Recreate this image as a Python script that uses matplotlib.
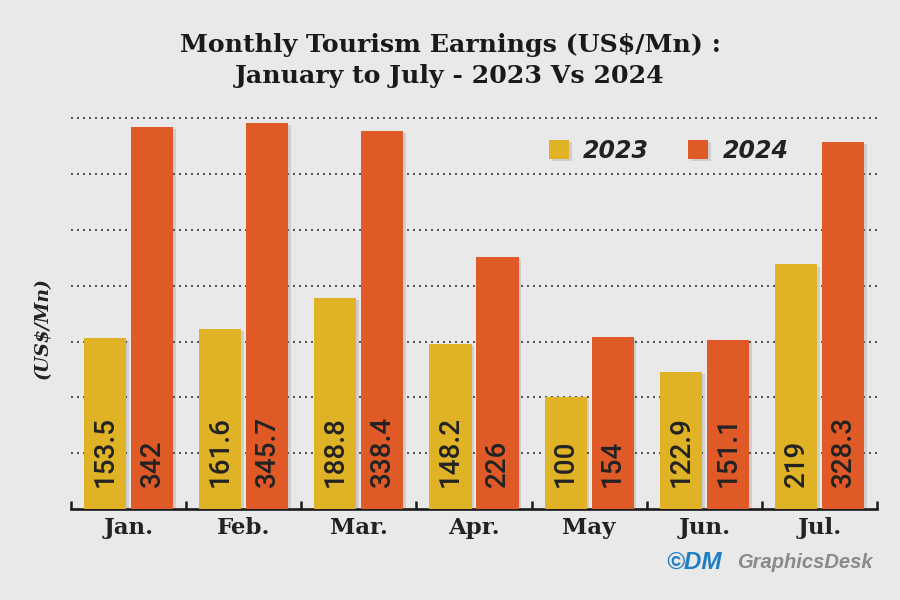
import matplotlib
matplotlib.use("Agg")
import matplotlib.pyplot as plt
import matplotlib.patheffects as pe
from matplotlib.ticker import FixedLocator
import numpy as np

months = ["Jan.", "Feb.", "Mar.", "Apr.", "May", "Jun.", "Jul."]
earn_2023 = [153.5, 161.6, 188.8, 148.2, 100, 122.9, 219]
earn_2024 = [342, 345.7, 338.4, 226, 154, 151.1, 328.3]
labels_2023 = ["153.5", "161.6", "188.8", "148.2", "100", "122.9", "219"]
labels_2024 = ["342", "345.7", "338.4", "226", "154", "151.1", "328.3"]
series_names = ["2023", "2024"]
grid_values = [50, 100, 150, 200, 250, 300, 350]

c23 = "#dfb325"
c24 = "#df5a26"
bg = "#e9e9e9"

fig = plt.figure(figsize=(9, 6), dpi=100, facecolor=bg)
ax = fig.add_axes([71/900, 91/600, 806/900, 0.67])
ax.set_facecolor(bg)

x = np.arange(len(months))
w = 0.365
off = 0.204
shadow = [pe.SimplePatchShadow(offset=(2, -1.5), alpha=0.18, shadow_rgbFace="#555555"), pe.Normal()]
b1 = ax.bar(x - off, earn_2023, w, color=c23, zorder=3, label=series_names[0], path_effects=shadow)
b2 = ax.bar(x + off, earn_2024, w, color=c24, zorder=3, label=series_names[1], path_effects=shadow)

narrow = ["Roboto", "DejaVu Sans"]
for xi, lab in zip(x - off, labels_2023):
    ax.text(xi, 20, lab, rotation=90, ha="center", va="bottom", fontsize=20,
            family=narrow, fontweight="medium", color="#222222", zorder=4)
for xi, lab in zip(x + off, labels_2024):
    ax.text(xi, 20, lab, rotation=90, ha="center", va="bottom", fontsize=20,
            family=narrow, fontweight="medium", color="#222222", zorder=4)

ax.set_xlim(-0.5, len(months) - 0.5)
ax.set_ylim(0, 360)

ax.set_yticks(grid_values)
ax.set_yticklabels([])
ax.tick_params(axis="y", length=0)
ax.yaxis.grid(True, color="#555555", linewidth=1.44, linestyle=(0, (1, 2)), zorder=0)
ax.set_axisbelow(True)

for s in ["left", "right", "top"]:
    ax.spines[s].set_visible(False)
ax.spines["bottom"].set_linewidth(1.9)
ax.spines["bottom"].set_color("#1a1a1a")

ax.set_xticks(x)
ax.set_xticklabels(months, family="DejaVu Serif", fontweight="bold", fontsize=16.5, color="#222222")
ax.tick_params(axis="x", which="major", length=0, pad=6)
ax.xaxis.set_minor_locator(FixedLocator(np.arange(-0.5, len(months), 1.0)))
ax.tick_params(axis="x", which="minor", direction="in", length=6, width=1.8, color="#1a1a1a")

ax.set_ylabel("(US$/Mn)", family="DejaVu Serif", fontweight="bold", style="italic",
              fontsize=13.5, color="#222222")
ax.yaxis.set_label_coords(-0.024, 0.45)

fig.text(0.5, 1 - 45/600, "Monthly Tourism Earnings (US$/Mn) :", ha="center", va="center",
         family="DejaVu Serif", fontweight="bold", fontsize=18.2, color="#1a1a1a")
fig.text(0.5, 1 - 76/600, "January to July - 2023 Vs 2024", ha="center", va="center",
         family="DejaVu Serif", fontweight="bold", fontsize=18.2, color="#1a1a1a")

leg = ax.legend(handles=[b1, b2], labels=series_names, ncol=2, frameon=False,
                loc="center left", bbox_to_anchor=(549/900, 1 - 150.5/600),
                bbox_transform=fig.transFigure, borderpad=0, borderaxespad=0,
                handlelength=0.85, handleheight=0.85, handletextpad=0.6,
                columnspacing=1.65,
                prop={"family": "DejaVu Sans", "style": "italic", "weight": "bold", "size": 17})
for t in leg.get_texts():
    t.set_color("#222222")

fig.text(666/900, 1 - 562/600, "\u00a9DM", ha="left", va="center", fontsize=17.5,
         family="Liberation Sans", fontweight="bold", style="italic", color="#1f7fc4")
fig.text(737/900, 1 - 562/600, "GraphicsDesk", ha="left", va="center", fontsize=14.5,
         family="Liberation Sans", fontweight="bold", style="italic", color="#8a8a8a")

fig.savefig("out.png", dpi=100, facecolor=bg)
